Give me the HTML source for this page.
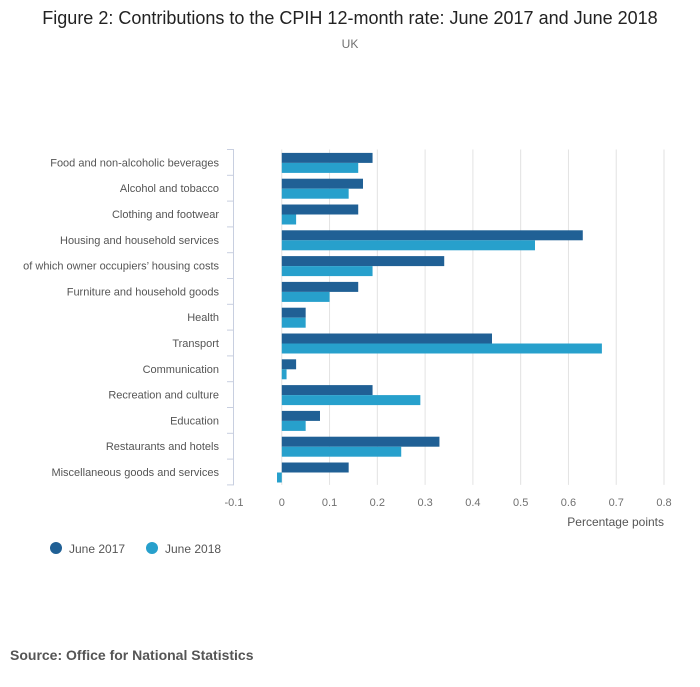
<!DOCTYPE html>
<html><head><meta charset="utf-8"><style>
body{margin:0;background:#fff;font-family:"Liberation Sans",sans-serif;}
#wrap{position:relative;width:700px;height:682px;}
</style></head><body>
<div id="wrap">
<svg id="chart" width="700" height="682" xmlns="http://www.w3.org/2000/svg">
<text x="350" y="24" text-anchor="middle" font-size="18" fill="#222">Figure 2: Contributions to the CPIH 12-month rate: June 2017 and June 2018</text>
<text x="350" y="48" text-anchor="middle" font-size="12" fill="#707070">UK</text>
<g id="grid"></g><g id="bars"></g><g id="axes"></g>
<text x="664" y="526" text-anchor="end" font-size="12" fill="#555">Percentage points</text>
<g><circle cx="56" cy="548" r="6" fill="#206095"/><text x="69" y="553" font-size="12" fill="#555">June 2017</text></g>
<g><circle cx="152" cy="548" r="6" fill="#27a0cc"/><text x="165" y="553" font-size="12" fill="#555">June 2018</text></g>
<text x="10" y="660" font-size="14" font-weight="bold" fill="#555">Source: Office for National Statistics</text>
</svg></div>
<script>
const categories=["Food and non-alcoholic beverages","Alcohol and tobacco","Clothing and footwear","Housing and household services","of which owner occupiers’ housing costs","Furniture and household goods","Health","Transport","Communication","Recreation and culture","Education","Restaurants and hotels","Miscellaneous goods and services"];
const june2017=[0.19,0.17,0.16,0.63,0.34,0.16,0.05,0.44,0.03,0.19,0.08,0.33,0.14];
const june2018=[0.16,0.14,0.03,0.53,0.19,0.10,0.05,0.67,0.01,0.29,0.05,0.25,-0.01];
const ticks=[-0.1,0,0.1,0.2,0.3,0.4,0.5,0.6,0.7,0.8];
const tickLabels=["-0.1","0","0.1","0.2","0.3","0.4","0.5","0.6","0.7","0.8"];
const NS="http://www.w3.org/2000/svg";
const x0=234,x1=664,vmin=-0.1,vmax=0.8,plotTop=149.5,band=25.8;
const xs=v=>x0+(v-vmin)/(vmax-vmin)*(x1-x0);
function mk(p,t,a){const e=document.createElementNS(NS,t);for(const k in a)e.setAttribute(k,a[k]);p.appendChild(e);return e;}
const grid=document.getElementById('grid'),bars=document.getElementById('bars'),axes=document.getElementById('axes');
ticks.forEach((t,i)=>{
 if(i>0){const l=mk(grid,'line',{x1:xs(t),x2:xs(t),y1:plotTop,y2:plotTop+band*categories.length,stroke:'#e2e2e2'});
 
 }
 const tx=mk(axes,'text',{x:xs(t),y:506,'text-anchor':'middle','font-size':11,fill:'#707070'});tx.textContent=tickLabels[i];
 
 
});
const ax=mk(axes,'line',{x1:233.5,x2:233.5,y1:plotTop,y2:plotTop+band*categories.length,stroke:'#c8cfe0'});


for(let i=0;i<=categories.length;i++){mk(axes,'line',{x1:227,x2:234,y1:plotTop+i*band,y2:plotTop+i*band,stroke:'#c8cfe0'});}
categories.forEach((c,i)=>{
 const cy=plotTop+i*band+band/2;
 const tx=mk(axes,'text',{x:219,y:cy+4,'text-anchor':'end','font-size':11,fill:'#555'});tx.textContent=c;
 
 
 [[june2017[i],'#206095',cy-9.5],[june2018[i],'#27a0cc',cy+0.5]].forEach(([v,col,y],k)=>{
  const a=xs(Math.min(0,v)),b=xs(Math.max(0,v));
  const r=mk(bars,'rect',{x:a,y:y,width:Math.max(b-a,0.5),height:10,fill:col});
  
  
 });
});
</script></body></html>
